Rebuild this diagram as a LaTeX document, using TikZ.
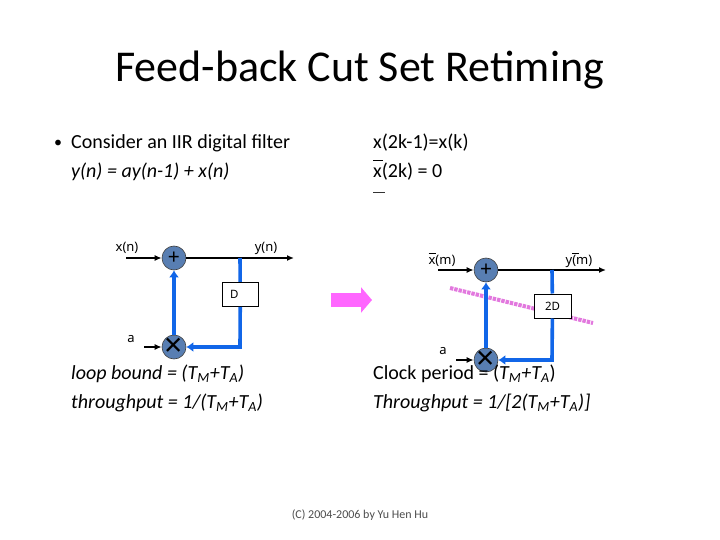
\documentclass[tikz,border=0pt]{standalone}
\usepackage{fontspec}
\setmainfont{Carlito}
\newfontfamily\labelfont{Noto Sans}
\usetikzlibrary{arrows.meta}
\definecolor{sigblue}{RGB}{17,102,232}
\definecolor{opfill}{RGB}{88,126,178}
\definecolor{cutpink}{RGB}{226,120,222}
\definecolor{bigpink}{RGB}{255,102,255}
\newcommand{\ovl}[2][1]{\leavevmode\rlap{\raisebox{0.86em}{\rule{#1em}{0.6pt}}}#2}
\newcommand{\fs}[1]{\fontsize{#1}{#1}\selectfont}
\tikzset{
  x=1pt,y=-1pt,
  opnode/.style={circle,draw=black!75,line width=0.6pt,fill=opfill,minimum size=24pt,inner sep=0pt,font=\labelfont\fs{21}},
  sigline/.style={line width=1.6pt,black,-{Latex[length=7pt,width=6pt]}},
  loopline/.style={line width=3.6pt,sigblue},
  looparrow/.style={loopline,-{Latex[length=7pt,width=10pt]}},
  delaybox/.style={draw=black,line width=0.5pt,fill=white,minimum width=36.5pt,minimum height=24.5pt,inner sep=0pt,font=\labelfont\bfseries\fs{11.5}},
  lab/.style={font=\labelfont\fs{13},inner sep=0pt},
  body/.style={font=\fs{20},inner sep=0pt,anchor=base west},
}
\begin{document}
\begin{tikzpicture}
\useasboundingbox (0,0) rectangle (720,540);
\node[font=\fs{44},inner sep=0pt,anchor=base] (title) at (359.5,81.5) {Feed-back Cut Set Retiming};
\node[font=\fs{16},inner sep=0pt,anchor=base west] (bullet) at (54,148) {•};
\node[body] (t1) at (71,148.5) {Consider an IIR digital filter};
\node[body] (t2) at (71,177.5) {\itshape y(n) = ay(n-1) + x(n)};
\node[body] (t3) at (373,148.5) {x(2k-1)=x(k)};
\node[body] (t4) at (373,177.5) {\ovl[0.5]{x}(2k) = 0};
\coordinate (stray1) at (373,192);
\coordinate (stray2) at (385,192);
\draw[line width=0.7pt,black!80] (stray1) -- (stray2);
% left filter
\node[opnode] (add1) at (174,258) {+};
\node[opnode] (mul1) at (174,347) {};
\node[font=\labelfont\fs{32},inner sep=0pt] (mx1) at (174,347.5) {×};
\coordinate (in1) at (126,258);
\coordinate (out1) at (294,258);
\coordinate (tap1) at (240,258);
\coordinate (cor1) at (240,347);
\coordinate (ain1) at (144,347);
\node[delaybox] (d1) at (240.3,294.3) {\hspace*{-12pt}D};
\draw[sigline] (in1) -- (add1);
\draw[sigline] (add1) -- (out1);
\draw[loopline] (tap1) -- (d1);
\draw[looparrow] (d1) -- (cor1) -- (mul1);
\draw[looparrow] (mul1) -- (add1);
\draw[sigline] (ain1) -- (mul1);
\node[lab] (lx1) at (127,248) {x(n)};
\node[lab] (ly1) at (266,248) {y(n)};
\node[lab] (la1) at (131,339) {a};
\node[body] (t5) at (71,379) {\itshape loop bound = (T\textsubscript{M}+T\textsubscript{A})};
\node[body] (t6) at (71,408) {\itshape throughput = 1/(T\textsubscript{M}+T\textsubscript{A})};
% arrow
\coordinate (ba1) at (331,300);
\coordinate (ba2) at (372,300);
\draw[line width=14pt,bigpink,-{Triangle[length=11pt,width=25pt]}] (ba1) -- (ba2);
% right filter
\node[opnode] (add2) at (486,270) {+};
\node[opnode] (mul2) at (486,360) {};
\coordinate (in2) at (438,270);
\coordinate (out2) at (606,270);
\coordinate (tap2) at (552,270);
\coordinate (cor2) at (552,360);
\coordinate (ain2) at (456,360);
\coordinate (cut1) at (450,288);
\coordinate (cut2) at (593,323);
\draw[cutpink,line width=4pt,dash pattern=on 3.4pt off 1pt] (cut1) -- (cut2);
\node[delaybox] (d2) at (552.5,306) {2D};
\draw[sigline] (in2) -- (add2);
\draw[sigline] (add2) -- (out2);
\draw[loopline] (tap2) -- (d2);
\draw[looparrow] (d2) -- (cor2) -- (mul2);
\draw[looparrow] (mul2) -- (add2);
\draw[sigline] (ain2) -- (mul2);
\node[font=\labelfont\fs{32},inner sep=0pt] (mx2) at (486,360.5) {×};
\node[lab] (lx2) at (442,260) {\ovl[0.55]{x}(m)};
\node[lab] (ly2) at (579,260) {y\ovl[0.55]{(}m)};
\node[lab] (la2) at (443,351) {a};
\node[body] (t7) at (373,379) {Clock period = (\textit{T\textsubscript{M}+T\textsubscript{A}})};
\node[body] (t8) at (373,408) {\itshape Throughput = 1/[2(T\textsubscript{M}+T\textsubscript{A})]};
\node[font=\fs{12},inner sep=0pt,text=black!70] (foot) at (360,515) {(C) 2004-2006 by Yu Hen Hu};
\end{tikzpicture}
\end{document}
